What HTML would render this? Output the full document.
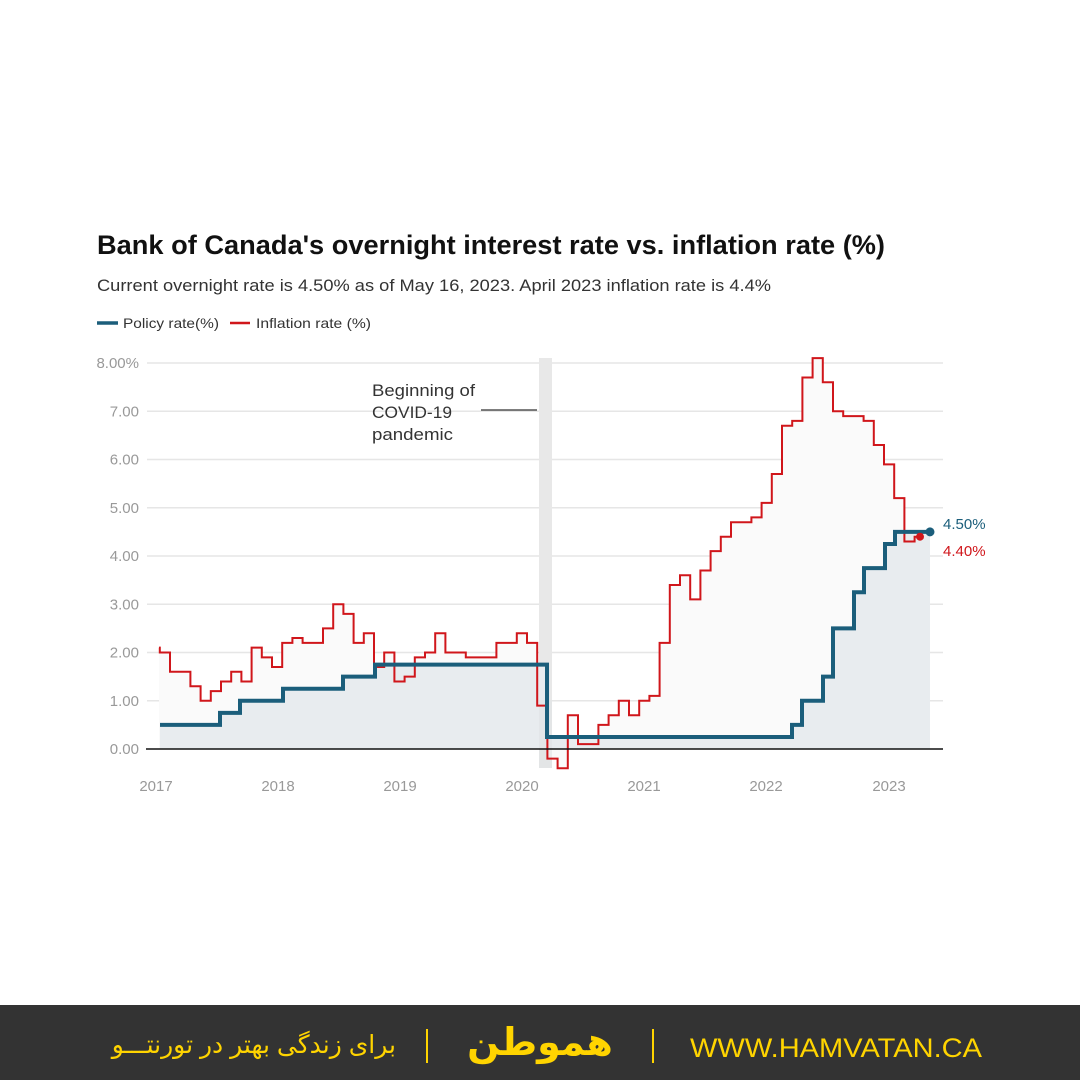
<!DOCTYPE html>
<html><head><meta charset="utf-8"><style>
html,body{margin:0;padding:0;background:#fff;}
body{position:relative;width:1080px;height:1080px;overflow:hidden;}
svg{display:block;font-family:"Liberation Sans",sans-serif;}
.fa{position:absolute;color:#ffd400;font-family:"Liberation Sans","DejaVu Sans",sans-serif;white-space:nowrap;direction:rtl;}
</style></head><body>
<svg id="s" width="1080" height="1080" viewBox="0 0 1080 1080" xmlns="http://www.w3.org/2000/svg">
<rect width="1080" height="1080" fill="#fff"/>
<text x="97" y="254" font-size="27" font-weight="bold" fill="#111" textLength="788" lengthAdjust="spacingAndGlyphs">Bank of Canada's overnight interest rate vs. inflation rate (%)</text>
<text x="97" y="291" font-size="17" fill="#333" textLength="674" lengthAdjust="spacingAndGlyphs">Current overnight rate is 4.50% as of May 16, 2023. April 2023 inflation rate is 4.4%</text>
<line x1="97" y1="323" x2="118" y2="323" stroke="#1b5e7b" stroke-width="3.5"/>
<text x="123" y="328" font-size="14" fill="#333" textLength="96" lengthAdjust="spacingAndGlyphs">Policy rate(%)</text>
<line x1="230" y1="323" x2="250" y2="323" stroke="#d0161b" stroke-width="2.5"/>
<text x="256" y="328" font-size="14" fill="#333" textLength="115" lengthAdjust="spacingAndGlyphs">Inflation rate (%)</text>
<g id="grid"></g>
<rect x="539" y="358" width="13" height="410" fill="#e8e8e8"/>
<g id="series"></g>
<line x1="146" y1="749" x2="943" y2="749" stroke="#111" stroke-width="1.5"/>
<g font-size="15" fill="#999" text-anchor="middle">
<text x="156" y="791">2017</text><text x="278" y="791">2018</text><text x="400" y="791">2019</text><text x="522" y="791">2020</text><text x="644" y="791">2021</text><text x="766" y="791">2022</text><text x="889" y="791">2023</text>
</g>
<g font-size="17" fill="#333">
<text x="372" y="396" textLength="103" lengthAdjust="spacingAndGlyphs">Beginning of</text><text x="372" y="418" textLength="80" lengthAdjust="spacingAndGlyphs">COVID-19</text><text x="372" y="440" textLength="81" lengthAdjust="spacingAndGlyphs">pandemic</text>
</g>
<line x1="481" y1="410" x2="537" y2="410" stroke="#333" stroke-width="1.2"/>
<text x="943" y="529" font-size="15" fill="#1b5e7b">4.50%</text>
<text x="943" y="556" font-size="15" fill="#d0161b">4.40%</text>
<rect x="0" y="1005" width="1080" height="75" fill="#333"/>
<text x="690" y="1057" font-size="27" fill="#ffd400" textLength="292" lengthAdjust="spacingAndGlyphs">WWW.HAMVATAN.CA</text>
<line x1="653" y1="1029" x2="653" y2="1063" stroke="#ffd400" stroke-width="2"/>
<line x1="427" y1="1029" x2="427" y2="1063" stroke="#ffd400" stroke-width="2"/>
</svg>
<div class="fa" style="left:460px;top:1018px;width:160px;text-align:center;font-size:38px;font-weight:bold;line-height:50px;">هموطن</div>
<div class="fa" style="left:100px;top:1027px;width:296px;text-align:right;font-size:25px;line-height:36px;">برای زندگی بهتر در تورنتـــو</div>
<script>
var NS="http://www.w3.org/2000/svg";
function Y(v){return 749-48.25*v;}
function X(m){return 149.6+10.2*m;}
function el(t,a,p){var e=document.createElementNS(NS,t);for(var k in a)e.setAttribute(k,a[k]);p.appendChild(e);return e;}
var g=document.getElementById('grid');
var labs=["0.00","1.00","2.00","3.00","4.00","5.00","6.00","7.00","8.00%"];
for(var i=0;i<=8;i++){
 if(i>0)el('line',{x1:147,y1:Y(i),x2:943,y2:Y(i),stroke:"#e6e6e6","stroke-width":1.5},g);
 var t=el('text',{x:139,y:Y(i)+5,"font-size":15,fill:"#999","text-anchor":"end"},g);t.textContent=labs[i];
}
var inf=[2.1,2.0,1.6,1.6,1.3,1.0,1.2,1.4,1.6,1.4,2.1,1.9,
1.7,2.2,2.3,2.2,2.2,2.5,3.0,2.8,2.2,2.4,1.7,2.0,
1.4,1.5,1.9,2.0,2.4,2.0,2.0,1.9,1.9,1.9,2.2,2.2,
2.4,2.2,0.9,-0.2,-0.4,0.7,0.1,0.1,0.5,0.7,1.0,0.7,
1.0,1.1,2.2,3.4,3.6,3.1,3.7,4.1,4.4,4.7,4.7,4.8,
5.1,5.7,6.7,6.8,7.7,8.1,7.6,7.0,6.9,6.9,6.8,6.3,
5.9,5.2,4.3,4.4];
var d="";
for(var m=0;m<inf.length;m++){
 var x0=m==0?159:X(m), x1=m==inf.length-1?920:X(m+1);
 d+=(m==0?"M":"L")+x0+","+Y(inf[m])+"L"+x1+","+Y(inf[m]);
}
var s=document.getElementById('series');
el('path',{d:d+"L920,749L159,749Z",fill:"#fafafa"},s);
var pol=[[160,0.5],[220,0.75],[240,1.0],[283,1.25],[343,1.5],[375,1.75],[547,0.25],[792,0.5],[802,1.0],[823,1.5],[833,2.5],[854,3.25],[864,3.75],[885,4.25],[895,4.5],[930,4.5]];
var pd="";
for(var i=0;i<pol.length;i++){
 var p=pol[i];
 if(i==0)pd="M"+p[0]+","+Y(p[1]);else pd+="L"+p[0]+","+Y(pol[i-1][1])+"L"+p[0]+","+Y(p[1]);
}
el('path',{d:pd+"L930,749L160,749Z",fill:"#e8ecef"},s);
el('rect',{x:539,y:700,width:13,height:68,fill:"#dfe2e4",opacity:0.6},s);
el('path',{d:d,fill:"none",stroke:"#d0161b","stroke-width":2},s);
el('path',{d:pd,fill:"none",stroke:"#1b5e7b","stroke-width":4},s);
el('circle',{cx:920,cy:Y(4.4),r:4,fill:"#d0161b"},s);
el('circle',{cx:930,cy:Y(4.5),r:4.5,fill:"#1b5e7b"},s);
</script>
</body></html>
